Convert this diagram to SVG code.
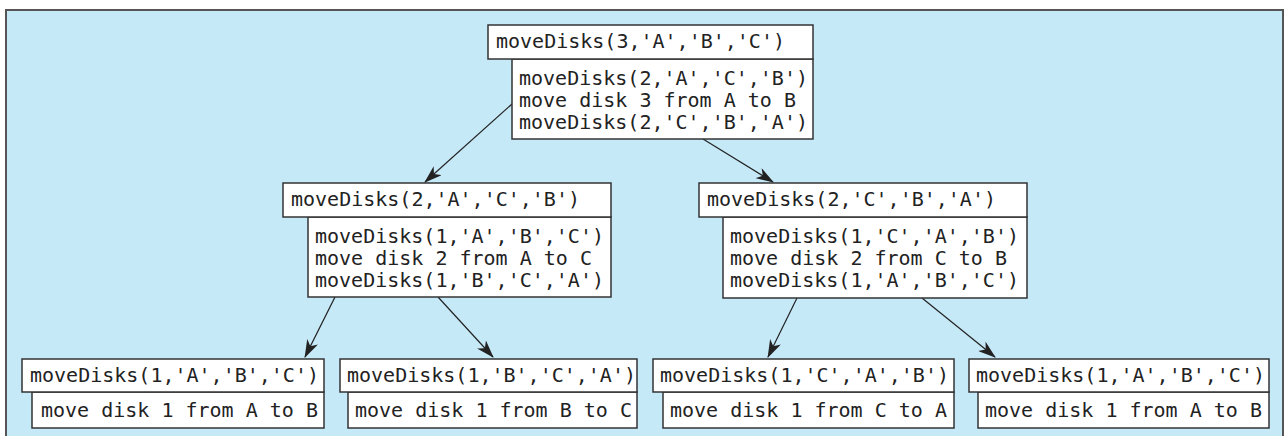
<svg xmlns="http://www.w3.org/2000/svg" width="1288" height="436" viewBox="0 0 1288 436">
<style>
.bg{fill:#c6e9f8;stroke:#555;stroke-width:2}
.box{fill:#fff;stroke:#333;stroke-width:1.5}
.t{font-family:"DejaVu Sans Mono","Liberation Mono",monospace;font-size:20px;fill:#222}
.c{stroke:#222;stroke-width:1.2;fill:none;marker-end:url(#ah)}
</style>
<defs>
<marker id="ah" viewBox="0 0 18 12" refX="17" refY="6" markerWidth="18" markerHeight="12" markerUnits="userSpaceOnUse" orient="auto">
<path d="M0,0 L18,6 L0,12 L5,6 Z" fill="#222"/>
</marker>
</defs>
<rect class="bg" x="6" y="10" width="1277" height="440"/>
<g id="connectors">
<line class="c" x1="512" y1="104" x2="425" y2="182"/>
<line class="c" x1="703" y1="139" x2="773" y2="182"/>
<line class="c" x1="335" y1="297" x2="305" y2="357"/>
<line class="c" x1="438" y1="297" x2="493" y2="357"/>
<line class="c" x1="797" y1="298" x2="768" y2="357"/>
<line class="c" x1="922" y1="298" x2="995" y2="357"/>
</g>
<g id="n3abc">
<rect class="box" x="512" y="59" width="301" height="80"/>
<rect class="box" x="488" y="25" width="325" height="34"/>
<text class="t" x="496" y="48">moveDisks(3,'A','B','C')</text>
<text class="t" x="519" y="85">moveDisks(2,'A','C','B')</text>
<text class="t" x="519" y="107">move disk 3 from A to B</text>
<text class="t" x="519" y="129">moveDisks(2,'C','B','A')</text>
</g>
<g id="n2acb">
<rect class="box" x="308" y="217" width="303" height="80"/>
<rect class="box" x="283" y="183" width="328" height="34"/>
<text class="t" x="291" y="206">moveDisks(2,'A','C','B')</text>
<text class="t" x="315" y="243">moveDisks(1,'A','B','C')</text>
<text class="t" x="315" y="265">move disk 2 from A to C</text>
<text class="t" x="315" y="287">moveDisks(1,'B','C','A')</text>
</g>
<g id="n2cba">
<rect class="box" x="723" y="217" width="304" height="81"/>
<rect class="box" x="699" y="183" width="328" height="34"/>
<text class="t" x="707" y="206">moveDisks(2,'C','B','A')</text>
<text class="t" x="730" y="243">moveDisks(1,'C','A','B')</text>
<text class="t" x="730" y="265">move disk 2 from C to B</text>
<text class="t" x="730" y="287">moveDisks(1,'A','B','C')</text>
</g>
<g id="n1abc_a">
<rect class="box" x="32" y="392" width="292" height="36"/>
<rect class="box" x="22" y="359" width="302" height="33"/>
<text class="t" x="30" y="382">moveDisks(1,'A','B','C')</text>
<text class="t" x="41" y="417">move disk 1 from A to B</text>
</g>
<g id="n1bca">
<rect class="box" x="348" y="392" width="289" height="36"/>
<rect class="box" x="340" y="359" width="297" height="33"/>
<text class="t" x="347" y="382">moveDisks(1,'B','C','A')</text>
<text class="t" x="355" y="417">move disk 1 from B to C</text>
</g>
<g id="n1cab">
<rect class="box" x="663" y="392" width="291" height="36"/>
<rect class="box" x="653" y="359" width="301" height="33"/>
<text class="t" x="660" y="382">moveDisks(1,'C','A','B')</text>
<text class="t" x="670" y="417">move disk 1 from C to A</text>
</g>
<g id="n1abc_b">
<rect class="box" x="978" y="392" width="291" height="36"/>
<rect class="box" x="969" y="359" width="300" height="33"/>
<text class="t" x="976" y="382">moveDisks(1,'A','B','C')</text>
<text class="t" x="985" y="417">move disk 1 from A to B</text>
</g>
</svg>
